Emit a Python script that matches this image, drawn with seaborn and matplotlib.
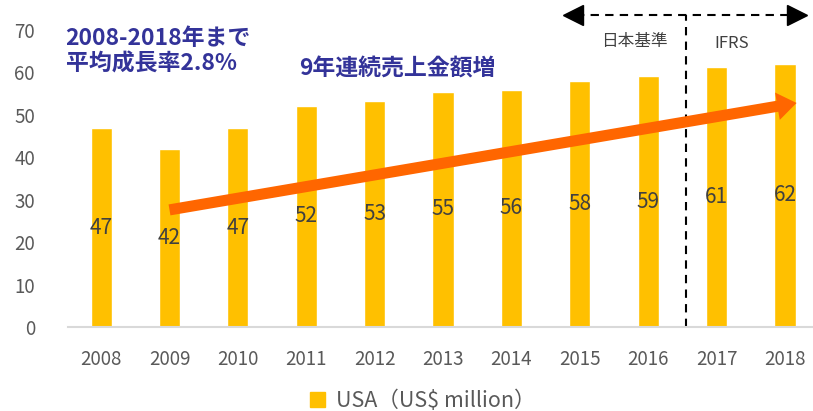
import matplotlib
matplotlib.use("Agg")
import matplotlib.pyplot as plt
import matplotlib.patches as mpatches
import pandas as pd
import seaborn as sns

# chart data
years = ["2008", "2009", "2010", "2011", "2012", "2013", "2014", "2015", "2016", "2017", "2018"]
sales = [46.8, 42.0, 46.9, 52.2, 53.3, 55.4, 55.9, 58.0, 59.1, 61.2, 62.1]
series_name = "USA（US$ million）"
note_growth = "2008-2018年まで\n平均成長率2.8%"
note_streak = "9年連続売上金額増"
label_jgaap = "日本基準"
label_ifrs = "IFRS"

sns.set_style("white")
plt.rcParams["font.family"] = ["Noto Sans CJK JP", "DejaVu Sans"]

df = pd.DataFrame({"year": years, "sales": sales})

fig = plt.figure(figsize=(8.13, 4.11), dpi=100)
ax = fig.add_axes([0.084, 0.2044, 0.916, 0.7226])

bar_color = "#FFC000"
sns.barplot(data=df, x="year", y="sales", color=bar_color, width=0.31,
            saturation=1, ax=ax)

for c in ax.containers:
    ax.bar_label(c, labels=[f"{v:.0f}" for v in sales], label_type="center",
                 fontsize=15, color="#404040")

ax.set_ylim(0, 70)
ax.set_xlim(-0.48, 10.41)
ax.set_yticks(range(0, 71, 10))
ax.set_xlabel("")
ax.set_ylabel("")
ax.tick_params(axis="both", length=0, labelsize=13.5, colors="#595959")
ax.tick_params(axis="x", pad=16)
ax.tick_params(axis="y", pad=24)
for s in ["top", "right", "left"]:
    ax.spines[s].set_visible(False)
ax.spines["bottom"].set_color("#D9D9D9")
ax.spines["bottom"].set_linewidth(1.5)

# orange trend arrow
ax.annotate("", xy=(10.17, 52.8), xytext=(1.0, 27.6),
            arrowprops=dict(facecolor="#FF6600", edgecolor="none", width=8,
                            headwidth=20, headlength=14))

# accounting standard divider
ax.plot([8.55, 8.55], [0, 73.6], ls=(0, (4, 3)), color="black", lw=1.5, clip_on=False)
ax.plot([6.95, 10.12], [73.6, 73.6], ls=(0, (4, 3)), color="black", lw=1.5, clip_on=False)
ax.plot([6.9], [73.6], marker="<", color="black", markersize=15, clip_on=False)
ax.plot([10.17], [73.6], marker=">", color="black", markersize=15, clip_on=False)
ax.text(7.8, 67.3, label_jgaap, ha="center", va="center", fontsize=12, color="#404040")
ax.text(9.22, 66.8, label_ifrs, ha="center", va="center", fontsize=12, color="#404040")

# notes
ax.text(-0.52, 65.0, note_growth, ha="left", va="center", fontsize=16.5,
        fontweight="bold", color="#333399", linespacing=1.1)
ax.text(2.9, 60.7, note_streak, ha="left", va="center", fontsize=16.5,
        fontweight="bold", color="#333399")

handle = mpatches.Patch(color=bar_color, label=series_name)
fig.legend(handles=[handle], loc="lower center", bbox_to_anchor=(0.52, -0.05),
           frameon=False, fontsize=15.5, labelcolor="#595959",
           handlelength=0.7, handleheight=0.7, handletextpad=0.5)

fig.savefig("out.png", dpi=100)
